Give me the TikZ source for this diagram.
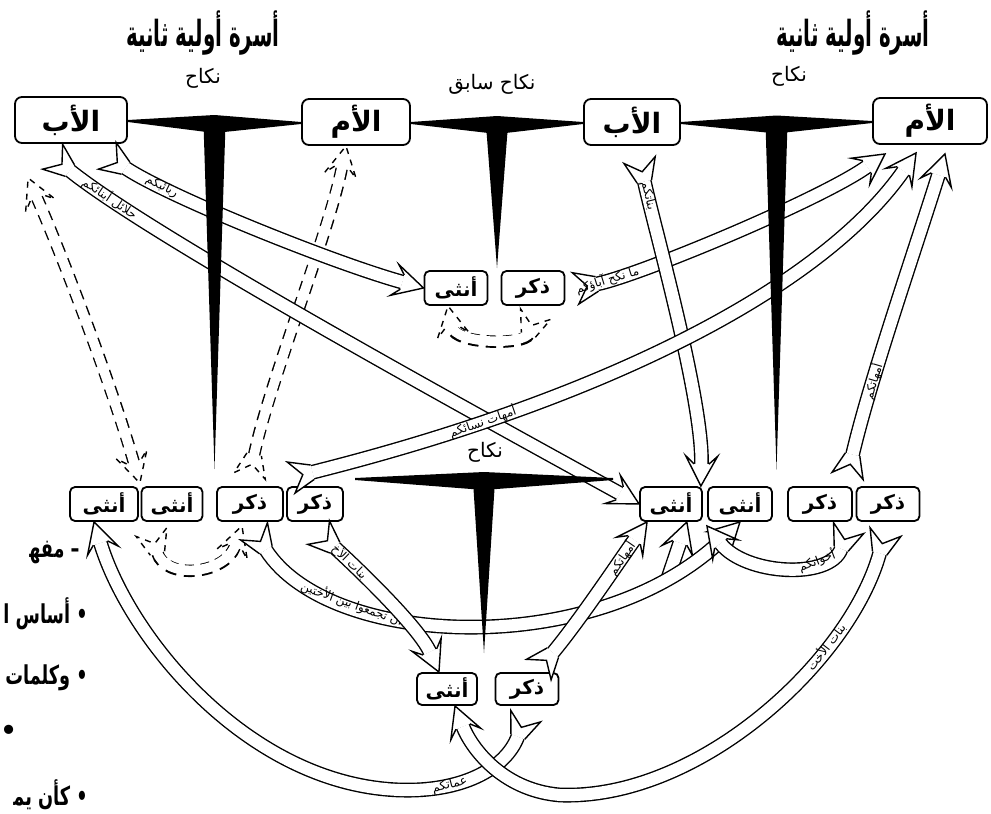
\documentclass[tikz,border=0pt]{standalone}
\usepackage{fontspec}
\newfontfamily\arabicfont[Script=Arabic]{DejaVu Sans}
\TeXXeTstate=1
\usetikzlibrary{calc,decorations.markings}
\newcommand{\ar}[1]{\beginR#1\endR}
% open arrow head and flared tail of a band
\newcommand{\bandhead}[1]{%
  \fill[white] (0pt,0pt) -- (-15pt,8pt) -- (-11pt,3.7pt) -- (-11pt,-3.7pt) -- (-15pt,-8pt) -- cycle;
  \draw[line width=0.7pt,#1] (-11pt,3.7pt) -- (-15pt,8pt) -- (0pt,0pt) -- (-15pt,-8pt) -- (-11pt,-3.7pt);}
\newcommand{\bandtail}[1]{%
  \fill[white] (10pt,3.7pt) -- (-1pt,8pt) -- (5pt,0pt) -- (-1pt,-8pt) -- (10pt,-3.7pt) -- cycle;
  \draw[line width=0.7pt,#1] (10pt,3.7pt) -- (-1pt,8pt) -- (5pt,0pt) -- (-1pt,-8pt) -- (10pt,-3.7pt);}
% marriage bar with its spike
\newcommand{\marriagebar}[3]{%
  \fill (#1) -- ($(#1)!0.5!(#2)+(0,-6)$) -- (#2) -- ($(#2)+(0,2)$) -- ($(#1)!0.5!(#2)+(0,12)$) -- ($(#1)+(0,2)$) -- cycle;
  \fill ($(#1)!0.5!(#2)+(-11,3)$) -- ($(#1)!0.5!(#2)+(11,3)$) -- ($(#1)!0.5!(#2)+(0,#3)$) -- cycle;}
\tikzset{
  parent/.style={draw, line width=0.9pt, rounded corners=3.5pt, minimum height=23pt, inner sep=1pt,
    font=\arabicfont\bfseries\fontsize{14}{16}\selectfont},
  kid/.style={draw, line width=0.9pt, rounded corners=2.5pt, minimum height=17pt, inner sep=1pt,
    font=\arabicfont\bfseries\fontsize{10}{12}\selectfont},
  titletext/.style={font=\arabicfont\bfseries\fontsize{18}{20}\selectfont, inner sep=1pt},
  nikah/.style={font=\arabicfont\fontsize{10}{12}\selectfont, inner sep=1pt},
  sidetext/.style={font=\arabicfont\bfseries\fontsize{13}{15}\selectfont, inner sep=0pt, anchor=east},
  blabel/.style={font=\arabicfont\fontsize{6}{7}\selectfont, inner sep=0.5pt, sloped},
  band/.style={preaction={draw, line width=0.7pt, double=white, double distance=6pt, shorten <=10pt, shorten >=11pt},
    postaction={decorate, decoration={markings, mark=at position 0.05pt with {\bandtail{solid}},
      mark=at position -0.05pt with {\bandhead{solid}}}}},
  headband/.style={preaction={draw, line width=0.7pt, double=white, double distance=6pt, shorten >=11pt},
    postaction={decorate, decoration={markings, mark=at position -0.05pt with {\bandhead{solid}}}}},
  dashedge/.style={draw, line width=6.2pt, dash pattern=on 5pt off 3.5pt, shorten <=10pt, shorten >=11pt},
  dashcore/.style={draw=white, line width=4.8pt, shorten <=9pt, shorten >=10pt},
  dband/.style={preaction={dashedge}, preaction={dashcore},
    postaction={decorate, decoration={markings, mark=at position 0.05pt with {\bandtail{dashed}},
      mark=at position -0.05pt with {\bandhead{dashed}}}}},
  ddband/.style={preaction={dashedge, shorten <=11pt}, preaction={dashcore},
    postaction={decorate, decoration={markings, mark=at position 0.05pt with {\begin{scope}[xscale=-1]\bandhead{dashed}\end{scope}},
      mark=at position -0.05pt with {\bandhead{dashed}}}}},
}
\begin{document}
\begin{tikzpicture}[x=0.5pt, y=-0.5pt]
\useasboundingbox (0,0) rectangle (991,814);

% titles
\node[titletext] (tl) at (203,33) {\scalebox{0.55}[1]{\ar{أسرة أولية ثانية}}};
\node[titletext] (tr) at (853,33) {\scalebox{0.55}[1]{\ar{أسرة أولية ثانية}}};

% parents
\node[parent, minimum width=56pt] (fa1) at (71,120) {\ar{الأب}};
\node[parent, minimum width=54pt] (mo1) at (356,122) {\ar{الأم}};
\node[parent, minimum width=48pt] (fa2) at (632,122) {\ar{الأب}};
\node[parent, minimum width=57pt] (mo2) at (930,121) {\ar{الأم}};

% children
\node[kid, minimum width=31.5pt] (midf) at (456,288) {\ar{أنثى}};
\node[kid, minimum width=31.5pt] (midm) at (533,288) {\ar{ذكر}};
\node[kid, minimum width=34pt] (lf1) at (104,504) {\ar{أنثى}};
\node[kid, minimum width=30.5pt] (lf2) at (172,504) {\ar{أنثى}};
\node[kid, minimum width=33pt] (lm1) at (250,504) {\ar{ذكر}};
\node[kid, minimum width=28pt] (lm2) at (315,504) {\ar{ذكر}};
\node[kid, minimum width=31pt] (rf1) at (671,504) {\ar{أنثى}};
\node[kid, minimum width=32pt] (rf2) at (740,504) {\ar{أنثى}};
\node[kid, minimum width=32pt] (rm1) at (820,504) {\ar{ذكر}};
\node[kid, minimum width=31.5pt] (rm2) at (888,504) {\ar{ذكر}};
\node[kid, minimum width=30pt, minimum height=16pt] (bf) at (447,689) {\ar{أنثى}};
\node[kid, minimum width=31.5pt, minimum height=16pt] (bm) at (527,689) {\ar{ذكر}};

% dashed bands
\path[ddband] ($(lf1.north east)+(1,-3)$) .. controls (110,380) and (60,250) .. ($(fa1.south west)+(14,34)$);
\path[dband] ($(lm1.north)+(0,-12)$) .. controls (270,380) and (330,230) .. ($(mo1.south)+(-10,0)$);
\path[dband] ($(midm.south)+(2,10)$) .. controls (525,345) and (455,345) .. ($(midf.south)+(-8,0)$);
\path[dband] ($(lf2.south)+(-20,12)$) .. controls (165,580) and (225,575) .. ($(lm1.south)+(-8,4)$);

% bands
\path[band] ($(fa1.south east)+(-19,13)$) .. controls +(60,40) and +(-90,-25) .. (midf.west)
  node[blabel, pos=0.22] {\ar{ربائبكم}};
\path[band] ($(fa1.south west)+(40,14)$) .. controls (150,235) and (450,400) .. (rf1.west)
  node[blabel, pos=0.15] {\ar{حلائل أبنائكم}};
\path[band] ($(midm.east)+(12,0)$) .. controls (640,275) and (820,200) .. ($(mo2.south west)+(13,9)$)
  node[blabel, pos=0.13] {\ar{ما نكح آباؤكم}};
\path[band] ($(fa2.south)+(8,16)$) .. controls (655,230) and (703,400) .. ($(rf1.north east)+(-2,0)$)
  node[blabel, pos=0.14] {\ar{بناتكم}};
\path[band] ($(lm2.north)+(-22,-9)$) .. controls (600,400) and (820,290) .. ($(mo2.south west)+(44,8)$)
  node[blabel, pos=0.22] {\ar{أمهات نسائكم}};
\path[band] ($(rm1.north)+(28,-12)$) .. controls (870,380) and (915,250) .. ($(mo2.south)+(15,9)$)
  node[blabel, pos=0.3] {\ar{أمهاتكم}};
\coordinate (fork) at (668,578);
\path[headband] (fork) -- ($(rf1.south east)+(-16,0)$);
\path[band] ($(lm1.south)+(5,11)$) .. controls (330,650) and (600,660) .. (rf2.south)
  node[blabel, pos=0.27] {\ar{أن تجمعوا بين الأختين}};
\path[band] ($(lm2.south)+(5,12)$) .. controls (370,580) and (420,630) .. ($(bf.north)+(-8,0)$)
  node[blabel, pos=0.2] {\ar{بنات الأخ}};
\path[band] ($(bm.north)+(13,-4)$) .. controls (580,620) and (620,560) .. ($(rf1.south west)+(8,0)$)
  node[blabel, pos=0.72] {\ar{أمهاتكم}};
\path[band] ($(rm1.south)+(28,8)$) .. controls (830,580) and (745,575) .. ($(rf1.south east)+(4,4)$)
  node[blabel, pos=0.3] {\ar{أخواتكم}};
\path[band] ($(bm.south)+(-2,12)$) .. controls (505,770) and (460,792) .. (400,790)
  node[blabel, pos=0.7] {\ar{عماتكم}}
  .. controls (250,785) and (130,640) .. ($(lf1.south)+(-10,0)$);
\path[band] ($(rm2.south)+(-3,12)$) .. controls (850,660) and (700,800) .. (560,795)
  node[blabel, pos=0.3] {\ar{بنات الأخت}}
  .. controls (500,790) and (470,745) .. ($(bf.south)+(8,0)$);

% marriages
\marriagebar{fa1.east}{mo1.west}{348}
\marriagebar{mo1.east}{fa2.west}{146}
\marriagebar{fa2.east}{mo2.west}{348}
\coordinate (nb1) at (355,478);
\coordinate (nb2) at (613,478);
\marriagebar{nb1}{nb2}{175}
\node[nikah] (n1) at (203,78) {\ar{نكاح}};
\node[nikah] (n2) at (492,84) {\ar{نكاح سابق}};
\node[nikah] (n3) at (789,76) {\ar{نكاح}};
\node[nikah] (n4) at (485,452) {\ar{نكاح}};

% cut side notes
\node[sidetext] (s1) at (80,553) {\scalebox{0.68}[1]{\ar{– مفه‍}}};
\node[sidetext] (s2) at (88,614) {\scalebox{0.68}[1]{\ar{• أساس ا}}};
\node[sidetext] (s3) at (88,678) {\scalebox{0.68}[1]{\ar{• وكلمات}}};
\node[sidetext, anchor=west] (s4) at (0,732) {•};
\node[sidetext] (s5) at (88,795) {\scalebox{0.68}[1]{\ar{• كأن يم‍}}};
\end{tikzpicture}
\end{document}
